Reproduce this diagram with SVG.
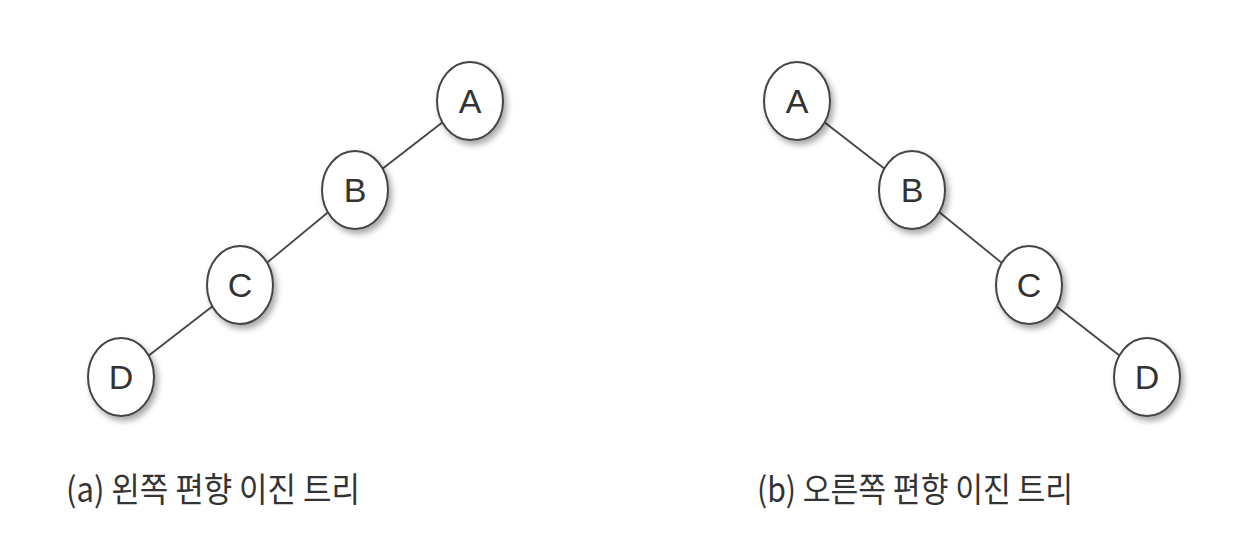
<svg xmlns="http://www.w3.org/2000/svg" width="1260" height="533" viewBox="0 0 1260 533">
<defs>
<filter id="sh" x="-30%" y="-30%" width="170%" height="170%">
<feGaussianBlur in="SourceAlpha" stdDeviation="3"/>
<feOffset dx="3" dy="4" result="b"/>
<feComponentTransfer><feFuncA type="linear" slope="0.35"/></feComponentTransfer>
<feMerge><feMergeNode/><feMergeNode in="SourceGraphic"/></feMerge>
</filter>
</defs>
<style>
.n ellipse{fill:#fff;stroke:#444;stroke-width:2;filter:url(#sh)}
.n text{font-family:"Liberation Sans",Arial,sans-serif;font-size:34px;fill:#333;text-anchor:middle}
.e line{stroke:#444;stroke-width:1.8}
.cap{font-family:"Noto Sans CJK KR","Noto Sans",sans-serif;font-size:34px;fill:#333}
</style>
<rect width="1260" height="533" fill="#fff"/>
<g class="e">
<line x1="470" y1="101" x2="355" y2="190"/>
<line x1="355" y1="190" x2="240" y2="285"/>
<line x1="240" y1="285" x2="121" y2="377"/>
<line x1="797" y1="101" x2="912" y2="190"/>
<line x1="912" y1="190" x2="1029" y2="285"/>
<line x1="1029" y1="285" x2="1147" y2="377"/>
</g>
<g id="la-A" class="n"><ellipse cx="470" cy="101" rx="33" ry="39"/><text x="470" y="113">A</text></g>
<g id="la-B" class="n"><ellipse cx="355" cy="190" rx="33" ry="39"/><text x="355" y="202">B</text></g>
<g id="la-C" class="n"><ellipse cx="240" cy="285" rx="33" ry="39"/><text x="240" y="297">C</text></g>
<g id="la-D" class="n"><ellipse cx="121" cy="377" rx="33" ry="39"/><text x="121" y="389">D</text></g>
<g id="rb-A" class="n"><ellipse cx="797" cy="101" rx="33" ry="39"/><text x="797" y="113">A</text></g>
<g id="rb-B" class="n"><ellipse cx="912" cy="190" rx="33" ry="39"/><text x="912" y="202">B</text></g>
<g id="rb-C" class="n"><ellipse cx="1029" cy="285" rx="33" ry="39"/><text x="1029" y="297">C</text></g>
<g id="rb-D" class="n"><ellipse cx="1147" cy="377" rx="33" ry="39"/><text x="1147" y="389">D</text></g>
<text class="cap" x="66" y="502" textLength="294" lengthAdjust="spacingAndGlyphs">(a) 왼쪽 편향 이진 트리</text>
<text class="cap" x="757" y="502" textLength="316" lengthAdjust="spacingAndGlyphs">(b) 오른쪽 편향 이진 트리</text>
</svg>
